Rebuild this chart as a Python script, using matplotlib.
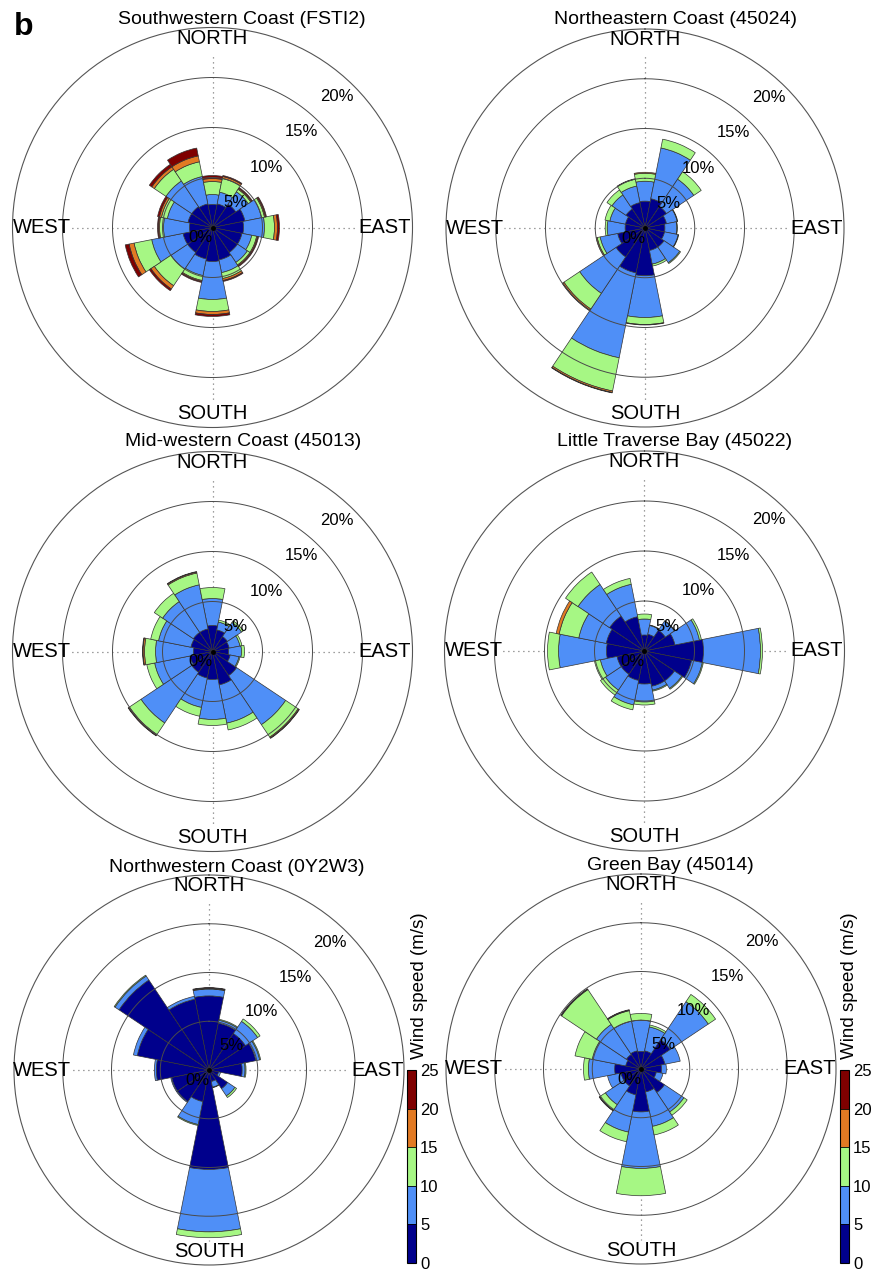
import numpy as np
import matplotlib
matplotlib.use("Agg")
import matplotlib.pyplot as plt
from matplotlib.colors import ListedColormap, BoundaryNorm
import matplotlib.colorbar as mcolorbar

plt.rcParams['font.family'] = ['Liberation Sans', 'DejaVu Sans']

# ---------------- data ----------------
directions = ['N', 'NNE', 'NE', 'ENE', 'E', 'ESE', 'SE', 'SSE',
              'S', 'SSW', 'SW', 'WSW', 'W', 'WNW', 'NW', 'NNW']
speed_edges = [0, 5, 10, 15, 20, 25]          # m/s classes
ring_levels = [5, 10, 15, 20]                 # % rings

# frequency (%) per direction, columns = speed classes 0-5,5-10,10-15,15-20,20-25
freq_fsti2 = [
    [2.3, 1.0, 1.3, 0.3, 0.3],   # N
    [2.4, 1.2, 1.4, 0.2, 0.1],   # NNE
    [2.8, 1.5, 0.3, 0.1, 0.1],   # NE
    [3.3, 1.7, 0.3, 0.1, 0.1],   # ENE
    [3.1, 2.1, 1.0, 0.3, 0.2],   # E
    [3.0, 1.0, 0.5, 0.1, 0.1],   # ESE
    [3.0, 1.2, 0.3, 0.1, 0.1],   # SE
    [3.3, 1.3, 0.6, 0.2, 0.1],   # SSE
    [3.4, 3.8, 1.2, 0.3, 0.2],   # S
    [3.2, 1.7, 0.5, 0.1, 0.1],   # SSW
    [3.0, 2.0, 2.0, 0.4, 0.2],   # SW
    [3.0, 3.2, 1.8, 0.5, 0.4],   # WSW
    [2.3, 2.6, 0.4, 0.1, 0.1],   # W
    [2.5, 2.1, 0.6, 0.2, 0.2],   # WNW
    [2.5, 3.1, 1.4, 0.3, 0.3],   # NW
    [2.4, 2.8, 1.5, 0.6, 0.8],   # NNW
]
freq_45024 = [
    [2.7, 2.0, 0.8, 0.1, 0.0],
    [3.0, 5.2, 0.9, 0.0, 0.0],
    [2.6, 3.3, 0.9, 0.0, 0.0],
    [2.2, 1.1, 0.05, 0.0, 0.0],
    [2.0, 1.2, 0.05, 0.0, 0.0],
    [2.0, 1.4, 0.05, 0.0, 0.0],
    [2.3, 1.9, 0.1, 0.0, 0.0],
    [2.3, 1.4, 0.2, 0.0, 0.0],
    [4.8, 4.2, 0.7, 0.05, 0.0],
    [4.6, 8.7, 3.4, 0.15, 0.05],
    [3.5, 4.4, 1.9, 0.15, 0.05],
    [2.8, 1.8, 0.3, 0.1, 0.0],
    [2.0, 1.8, 0.2, 0.0, 0.0],
    [2.0, 1.6, 0.5, 0.0, 0.0],
    [2.3, 1.7, 0.6, 0.0, 0.0],
    [2.6, 1.7, 0.7, 0.05, 0.0],
]
freq_45013 = [
    [2.6, 2.7, 1.1, 0.0, 0.0],
    [2.2, 0.8, 0.2, 0.0, 0.0],
    [1.8, 1.7, 0.2, 0.0, 0.0],
    [1.7, 1.1, 0.2, 0.0, 0.0],
    [1.6, 1.3, 0.3, 0.0, 0.0],
    [1.8, 0.9, 0.1, 0.0, 0.0],
    [2.9, 5.9, 1.5, 0.1, 0.05],
    [3.4, 3.9, 0.7, 0.0, 0.0],
    [2.8, 4.0, 0.6, 0.0, 0.0],
    [2.7, 3.0, 0.9, 0.0, 0.0],
    [2.5, 6.1, 1.4, 0.1, 0.05],
    [2.3, 3.6, 0.8, 0.0, 0.0],
    [1.9, 3.8, 1.1, 0.15, 0.05],
    [2.2, 3.3, 0.8, 0.0, 0.0],
    [2.3, 3.7, 1.0, 0.0, 0.0],
    [2.3, 4.5, 1.2, 0.1, 0.05],
]
freq_45022 = [
    [1.6, 1.6, 0.5, 0.0, 0.0],
    [1.7, 0.9, 0.05, 0.0, 0.0],
    [2.5, 1.1, 0.05, 0.0, 0.0],
    [3.1, 2.5, 0.2, 0.0, 0.0],
    [5.9, 5.7, 0.2, 0.0, 0.0],
    [4.8, 1.1, 0.1, 0.0, 0.0],
    [3.6, 0.9, 0.1, 0.0, 0.0],
    [3.6, 0.4, 0.1, 0.0, 0.0],
    [3.3, 1.8, 0.3, 0.0, 0.0],
    [3.0, 2.5, 0.5, 0.0, 0.0],
    [2.8, 1.9, 0.6, 0.0, 0.0],
    [2.8, 1.7, 0.6, 0.0, 0.0],
    [3.8, 4.8, 1.1, 0.0, 0.0],
    [3.9, 2.8, 2.0, 0.3, 0.0],
    [4.2, 3.8, 1.5, 0.0, 0.0],
    [3.5, 3.3, 0.6, 0.0, 0.0],
]
freq_0y2w3 = [
    [7.6, 0.7, 0.05, 0.05, 0.05],
    [4.9, 0.3, 0.1, 0.0, 0.0],
    [4.5, 1.5, 0.3, 0.0, 0.0],
    [4.9, 0.4, 0.1, 0.0, 0.0],
    [3.4, 0.3, 0.1, 0.0, 0.0],
    [1.0, 0.2, 0.0, 0.0, 0.0],
    [2.3, 0.9, 0.2, 0.0, 0.0],
    [1.2, 0.6, 0.05, 0.0, 0.0],
    [10.2, 6.4, 0.6, 0.0, 0.0],
    [3.3, 2.4, 0.1, 0.0, 0.0],
    [3.9, 0.1, 0.0, 0.0, 0.0],
    [3.9, 0.1, 0.0, 0.0, 0.0],
    [5.4, 0.2, 0.0, 0.0, 0.0],
    [7.5, 0.4, 0.0, 0.0, 0.0],
    [11.1, 0.5, 0.1, 0.0, 0.0],
    [7.4, 0.3, 0.0, 0.0, 0.0],
]
freq_45014 = [
    [1.8, 3.2, 0.7, 0.0, 0.0],
    [1.9, 2.5, 0.2, 0.0, 0.0],
    [3.6, 4.7, 0.9, 0.0, 0.0],
    [2.5, 1.6, 0.0, 0.0, 0.0],
    [2.1, 0.5, 0.0, 0.0, 0.0],
    [1.6, 0.7, 0.0, 0.0, 0.0],
    [2.9, 2.4, 0.4, 0.0, 0.0],
    [2.4, 3.6, 0.9, 0.0, 0.0],
    [4.4, 5.8, 2.8, 0.0, 0.0],
    [2.7, 3.9, 1.0, 0.0, 0.0],
    [2.1, 2.3, 0.7, 0.03, 0.03],
    [2.1, 1.4, 0.0, 0.0, 0.0],
    [2.7, 2.7, 0.5, 0.0, 0.0],
    [1.6, 3.5, 1.8, 0.0, 0.0],
    [1.8, 3.7, 4.3, 0.05, 0.05],
    [1.9, 3.1, 1.1, 0.05, 0.05],
]
titles = ['Southwestern Coast (FSTI2)', 'Northeastern Coast (45024)',
          'Mid-western Coast (45013)', 'Little Traverse Bay (45022)',
          'Northwestern Coast (0Y2W3)', 'Green Bay (45014)']

# ---------------- style ----------------
class_colors = ['#00008C', '#4F8FF7', '#A6F784', '#E27A23', '#7F0000']
W, H = 877, 1270
fig = plt.figure(figsize=(W / 100, H / 100), dpi=100)

# layout: (centre x, centre y, radius of 20% ring, title x, title y) in px
layout = [
    (212.5, 227.5, 200, 242, 19),
    (645, 228, 199, 675, 20),
    (212.5, 651.5, 200, 243, 442),
    (644.5, 651, 200, 675, 442),
    (209, 1070, 195, 237, 867),
    (641, 1069, 195, 670, 865),
]
freqs = [freq_fsti2, freq_45024, freq_45013, freq_45022, freq_0y2w3, freq_45014]
theta = np.deg2rad(np.arange(len(directions)) * 22.5)
width = 2 * np.pi / len(directions)


def draw_rose(freq, cx, cy, R):
    ax = fig.add_axes([(cx - R) / W, (H - cy - R) / H, 2 * R / W, 2 * R / H],
                      projection='polar')
    ax.set_theta_zero_location('N')
    ax.set_theta_direction(-1)
    f = np.array(freq, dtype=float)
    bottom = np.zeros(len(directions))
    for k in range(f.shape[1]):
        h = f[:, k]
        m = h > 0
        ax.bar(theta[m], h[m], width=width, bottom=bottom[m],
               color=class_colors[k], edgecolor='#333333', linewidth=0.5,
               zorder=2)
        bottom += h
    ax.set_ylim(0, 20)
    ax.set_xticks([])
    ax.set_yticks([])
    ax.grid(False)
    ax.spines['polar'].set_linewidth(0.8)
    ax.spines['polar'].set_color('#555555')
    tt = np.linspace(0, 2 * np.pi, 400)
    for r in ring_levels[:-1]:
        ax.plot(tt, np.full_like(tt, r), color='#4a4a4a', lw=0.7, zorder=3)
    for th, rmax in [(0, 17.4), (np.pi / 2, 14.4), (np.pi, 17.5), (1.5 * np.pi, 14.2)]:
        ax.plot([th, th], [0, rmax], color='#808080', lw=0.9,
                ls=(0, (1, 3)), zorder=1)
    ax.plot([0], [0], 'o', color='k', ms=2.5, zorder=4)
    ax.text(0, 18.9, 'NORTH', ha='center', va='center', fontsize=14.5, zorder=5)
    ax.text(np.pi, 18.6, 'SOUTH', ha='center', va='center', fontsize=14.5, zorder=5)
    ax.text(1.5 * np.pi, 17.1, 'WEST', ha='center', va='center', fontsize=14.5, zorder=5)
    ax.text(0.5 * np.pi, 17.25, 'EAST', ha='center', va='center', fontsize=14.5, zorder=5)
    for r in [0] + ring_levels:
        ax.annotate(f'{r}%', xy=(np.pi / 4, r), xytext=(0, -7.5),
                    textcoords='offset points', ha='right', va='center',
                    fontsize=12, zorder=6)
    ax.set_clip_on(False)
    return ax


for (cx, cy, R, tx, ty), fr, ttl in zip(layout, freqs, titles):
    draw_rose(fr, cx, cy, R)
    fig.text(tx / W, 1 - ty / H, ttl, ha='center', va='center', fontsize=14)

# colorbars for the bottom row
cmap = ListedColormap(class_colors)
norm = BoundaryNorm(speed_edges, cmap.N)
for x0, lx in [(407, 420), (840, 850)]:
    cax = fig.add_axes([x0 / W, (H - 1263) / H, 9 / W, 193 / H])
    cb = mcolorbar.ColorbarBase(cax, cmap=cmap, norm=norm,
                                boundaries=speed_edges, ticks=speed_edges,
                                orientation='vertical', drawedges=True)
    cb.outline.set_linewidth(0.8)
    cb.dividers.set_linewidth(0.6)
    cax.tick_params(labelsize=12, length=0, pad=3)
    fig.text(lx / W, 1 - 986 / H, 'Wind speed (m/s)', rotation=90,
             ha='center', va='center', fontsize=13.5)

fig.text(14 / W, 1 - 27 / H, 'b', fontsize=23, fontweight='bold',
         ha='left', va='center')

fig.savefig('out.png', dpi=100)
